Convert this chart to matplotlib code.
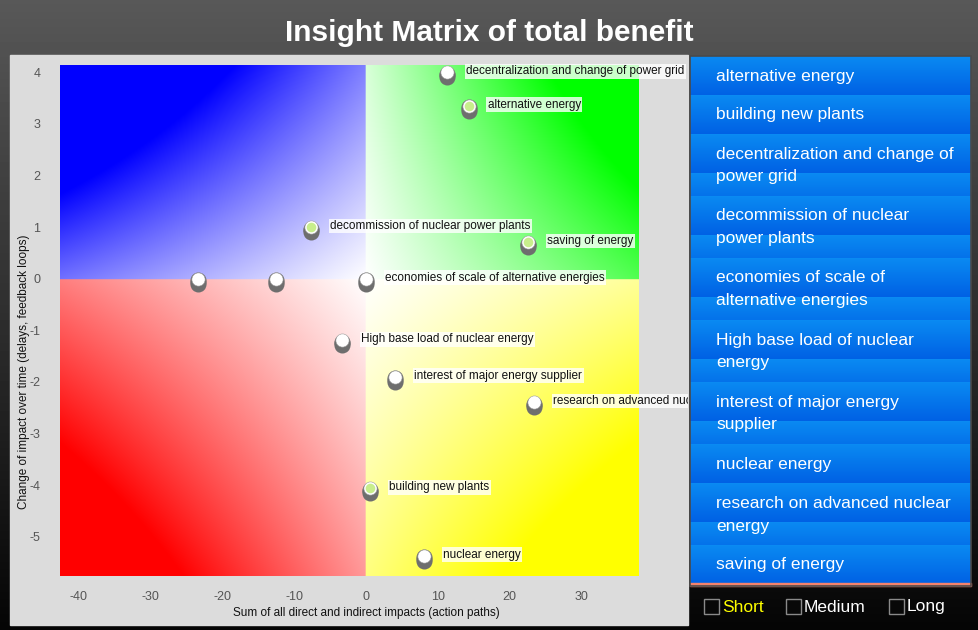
import numpy as np
import matplotlib
matplotlib.use("Agg")
import matplotlib.pyplot as plt
from matplotlib.patches import Rectangle
from matplotlib.transforms import offset_copy

plt.rcParams["axes.unicode_minus"] = False

W, H = 979, 630

TITOLO = "Insight Matrix of total benefit"
X_LABEL = "Sum of all direct and indirect impacts (action paths)"
Y_LABEL = "Change of impact over time (delays, feedback loops)"

# punti della matrice
etichette = [
    "decentralization and change of power grid",
    "alternative energy",
    "decommission of nuclear power plants",
    "saving of energy",
    "",
    "",
    "economies of scale of alternative energies",
    "High base load of nuclear energy",
    "interest of major energy supplier",
    "research on advanced nuclear energy",
    "building new plants",
    "nuclear energy",
]
x_vals = [11.3, 14.3, -7.6, 22.6, -23.4, -12.5, 0.0, -3.3, 4.1, 23.4, 0.6, 8.1]
y_vals = [4.0, 3.35, 1.0, 0.71, 0.0, 0.0, 0.0, -1.19, -1.9, -2.39, -4.06, -5.37]
evidenziati = [False, True, True, True, False, False, False, False, False, False, True, False]

x_ticks = [-40, -30, -20, -10, 0, 10, 20, 30]
y_ticks = [-5, -4, -3, -2, -1, 0, 1, 2, 3, 4]

# legenda a destra (a capo come nel pannello)
legenda = [
    "alternative energy",
    "building new plants",
    "decentralization and change of\npower grid",
    "decommission of nuclear\npower plants",
    "economies of scale of\nalternative energies",
    "High base load of nuclear\nenergy",
    "interest of major energy\nsupplier",
    "nuclear energy",
    "research on advanced nuclear\nenergy",
    "saving of energy",
]

durate = ["Short", "Medium", "Long"]
durata_attiva = "Short"

XMIN, XMAX = -42.6, 38.0
YMIN, YMAX = -5.76, 4.14

FONT = ["Liberation Sans", "DejaVu Sans"]


def sfondo_figura(bg):
    grad = np.linspace(0.345, 0.02, 200)
    img = np.repeat(grad[:, None], 2, axis=1)
    bg.imshow(img, extent=(0, W, H, 0), cmap="gray", vmin=0, vmax=1,
              aspect="auto", interpolation="bilinear", zorder=0)
    bg.add_patch(Rectangle((10, 55), 678, 570, color="#dcdcdc", zorder=1))


def sfondo_quadranti(ax):
    nx, ny = 500, 420
    X, Y = np.meshgrid(np.linspace(XMIN, XMAX, nx), np.linspace(YMIN, YMAX, ny))
    u = np.where(X < 0, X / XMIN, X / XMAX)
    v = np.where(Y > 0, Y / YMAX, Y / YMIN)
    img = np.ones((ny, nx, 3))
    quadranti = [
        ((X < 0) & (Y >= 0), (0, 0, 1), 0.56, 0.50, 0.6),
        ((X >= 0) & (Y >= 0), (0, 1, 0), 0.68, 0.15, 0.6),
        ((X < 0) & (Y < 0), (1, 0, 0), 0.50, 0.40, 0.5),
        ((X >= 0) & (Y < 0), (1, 1, 0), 0.40, 0.50, 0.6),
    ]
    for mask, col, a, b, c in quadranti:
        t = np.clip(a * u + b * v + c * u * v, 0, 1)
        for k in range(3):
            img[..., k] = np.where(mask, 1 - t * (1 - col[k]), img[..., k])
    ax.imshow(img, extent=(XMIN, XMAX, YMIN, YMAX), origin="lower",
              aspect="auto", interpolation="bilinear", zorder=0)


def disegna_punti(ax, fig, clip_rect):
    # corpo grigio sotto il bottone (effetto cilindro)
    for dy in (-5, -3, -1.5):
        tr = offset_copy(ax.transData, fig, x=0, y=dy, units="dots")
        ax.scatter(x_vals, y_vals, s=133, color="#6e6e6e", transform=tr,
                   zorder=3, clip_on=False, linewidths=0)
    ax.scatter(x_vals, y_vals, s=90, color="white", edgecolors="#a0a0a0",
               linewidths=0.4, zorder=4, clip_on=False)
    xv = [x for x, e in zip(x_vals, evidenziati) if e]
    yv = [y for y, e in zip(y_vals, evidenziati) if e]
    ax.scatter(xv, yv, s=48, color="#c8ee8c", zorder=5, clip_on=False, linewidths=0)

    testo_tr = offset_copy(ax.transData, fig, x=19, y=1, units="dots")
    for x, y, lab in zip(x_vals, y_vals, etichette):
        if not lab:
            continue
        t = ax.text(x, y, lab, transform=testo_tr, ha="left", va="center",
                    fontsize=8.5, family=FONT, color="#111111", zorder=6,
                    bbox=dict(boxstyle="square,pad=0.12", fc="white", ec="none", alpha=0.8))
        t.set_clip_on(True)
        t.set_clip_path(clip_rect)


def pannello_legenda(bg):
    x0, x1, top = 690, 971, 56
    tile = 39
    passo = 23
    y = top
    for lab in legenda:
        righe = lab.split("\n")
        h = tile + passo * (len(righe) - 1)
        fase = (np.arange(h) % tile) / tile
        r = np.interp(fase, [0, 1], [10, 0]) / 255
        g = np.interp(fase, [0, 1], [138, 96]) / 255
        b = np.interp(fase, [0, 1], [242, 228]) / 255
        img = np.stack([r, g, b], axis=1)[:, None, :].repeat(2, axis=1)
        bg.imshow(img, extent=(x0, x1, y + h, y), aspect="auto",
                  interpolation="nearest", zorder=2)
        for i, riga in enumerate(righe):
            bg.text(716, y + 20 + passo * i, riga, color="white", fontsize=12.5,
                    family=FONT, ha="left", va="center", zorder=3)
        y += h
    bg.add_patch(Rectangle((x0, y - 1), x1 - x0, 3, color="#f4826c", zorder=3))
    bg.add_patch(Rectangle((x0, top), x1 - x0, y + 2 - top, fill=False,
                           ec="#4a4a4a", lw=1.2, zorder=4))


def caselle_durata(bg):
    pos_box = [704, 786, 889]
    for xb, nome in zip(pos_box, durate):
        bg.add_patch(Rectangle((xb, 599), 15, 15, fc="#080808", ec="#8a8a8a",
                               lw=1, zorder=3))
        col = "#ffff00" if nome == durata_attiva else "white"
        bg.text(xb + 18, 607, nome, color=col, fontsize=12.5, family=FONT,
                ha="left", va="center", zorder=3)


def main():
    fig = plt.figure(figsize=(W / 100, H / 100), dpi=100)
    bg = fig.add_axes([0, 0, 1, 1])
    bg.set_xlim(0, W)
    bg.set_ylim(H, 0)
    bg.axis("off")

    sfondo_figura(bg)
    bg.text(489, 33, TITOLO, color="white", fontsize=21.5, fontweight="bold",
            family=FONT, ha="center", va="center")
    pannello_legenda(bg)
    caselle_durata(bg)

    ax = fig.add_axes([60 / W, 1 - 576 / H, 579 / W, 511 / H])
    ax.set_xlim(XMIN, XMAX)
    ax.set_ylim(YMIN, YMAX)
    ax.patch.set_alpha(0)
    for s in ax.spines.values():
        s.set_visible(False)
    sfondo_quadranti(ax)

    ax.set_xticks(x_ticks)
    ax.set_yticks(y_ticks)
    ax.tick_params(length=0, labelsize=9, labelcolor="#555555")
    ax.tick_params(axis="x", pad=10.5)
    ax.tick_params(axis="y", pad=14)
    for lab in ax.get_xticklabels() + ax.get_yticklabels():
        lab.set_family(FONT)
    ax.set_xlabel(X_LABEL, fontsize=8.5, family=FONT, color="#111111")
    ax.set_ylabel(Y_LABEL, fontsize=8.5, family=FONT, color="#111111")
    ax.xaxis.set_label_coords((366 - 60) / 579, -(613 - 576) / 511)
    ax.xaxis.label.set_va("center")
    ax.yaxis.set_label_coords(-(60 - 24) / 579, (576 - 372) / 511)
    ax.yaxis.label.set_va("center")

    clip_rect = Rectangle((10, 55), 678, 570, transform=bg.transData)
    disegna_punti(ax, fig, clip_rect)

    fig.savefig("out.png", dpi=100)


if __name__ == "__main__":
    main()
